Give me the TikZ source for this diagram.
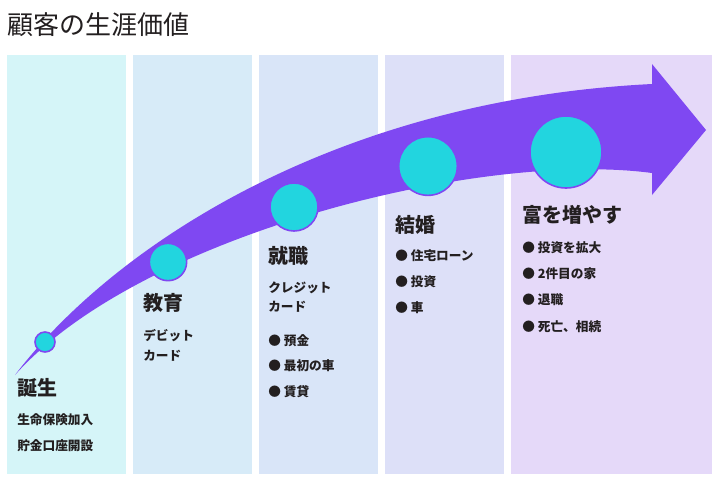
\documentclass[tikz,border=0pt]{standalone}
\usepackage{fontspec}
\setmainfont{Noto Sans CJK JP}[BoldFont={* Black}]
\usetikzlibrary{positioning}
\definecolor{arrowpurple}{HTML}{7F48F2}
\definecolor{dotcyan}{HTML}{22D5DF}
\definecolor{colA}{HTML}{D5F5F8}
\definecolor{colB}{HTML}{D7EBF8}
\definecolor{colC}{HTML}{D9E5F8}
\definecolor{colD}{HTML}{DDE0F8}
\definecolor{colE}{HTML}{E5D9F9}
\definecolor{inktext}{HTML}{231F20}
\tikzset{
  stage/.style={anchor=west, font=\bfseries\fontsize{15}{18}\selectfont, text=inktext, inner sep=0pt},
  item/.style={anchor=west, font=\bfseries\fontsize{9.5}{11}\selectfont, text=inktext, inner sep=0pt},
  dot/.style={circle, fill=dotcyan, draw=arrowpurple, line width=1.2pt, inner sep=0pt}
}
\begin{document}
\begin{tikzpicture}[x=0.75pt,y=-0.75pt]
 \useasboundingbox (0,0) rectangle (720,480);
 \fill[white] (0,0) rectangle (720,480);

 % columns
 \fill[colA] (7,55) rectangle (126,474);
 \fill[colB] (133,55) rectangle (252,474);
 \fill[colC] (259,55) rectangle (378,474);
 \fill[colD] (385,55) rectangle (504,474);
 \fill[colE] (511,55) rectangle (712,474);

 \node[anchor=west, inner sep=0pt, font=\fontsize{19.5}{22}\selectfont, text=inktext] (title) at (7,25) {顧客の生涯価値};

 % arrow
 \fill[arrowpurple] (15,375) .. controls (110,250) and (330,100) .. (652,84)
   -- (652,64) -- (706,130) -- (652,195) -- (652,173)
   .. controls (480,150) and (140,235) .. (15,375) -- cycle;

 % milestones
 \node[dot, minimum size=15pt] (d1) at (45,342) {};
 \node[dot, minimum size=28pt] (d2) at (168,262) {};
 \node[dot, minimum size=36pt] (d3) at (294,207) {};
 \node[dot, minimum size=44pt] (d4) at (428,166) {};
 \node[dot, minimum size=54pt] (d5) at (566,152) {};

 \node[stage] (birth) at (17,388) {誕生};
 \node[item] (b1) at (17,420) {生命保険加入};
 \node[item] (b2) at (17,446) {貯金口座開設};

 \node[stage] (edu) at (143,303) {教育};
 \node[item] (e1) at (143,336) {デビット};
 \node[item] (e2) at (143,356) {カード};

 \node[stage] (job) at (268,256) {就職};
 \node[item] (j1) at (268,288) {クレジット};
 \node[item] (j2) at (268,307) {カード};
 \node[item] (j3) at (268,341) {● 預金};
 \node[item] (j4) at (268,366) {● 最初の車};
 \node[item] (j5) at (268,392) {● 賃貸};

 \node[stage] (wed) at (395,225) {結婚};
 \node[item] (w1) at (395,256) {● 住宅ローン};
 \node[item] (w2) at (395,282) {● 投資};
 \node[item] (w3) at (395,308) {● 車};

 \node[stage] (rich) at (522,215) {富を増やす};
 \node[item] (r1) at (522,248) {● 投資を拡大};
 \node[item] (r2) at (522,274) {● 2件目の家};
 \node[item] (r3) at (522,300) {● 退職};
 \node[item] (r4) at (522,327) {● 死亡、相続};
\end{tikzpicture}
\end{document}
